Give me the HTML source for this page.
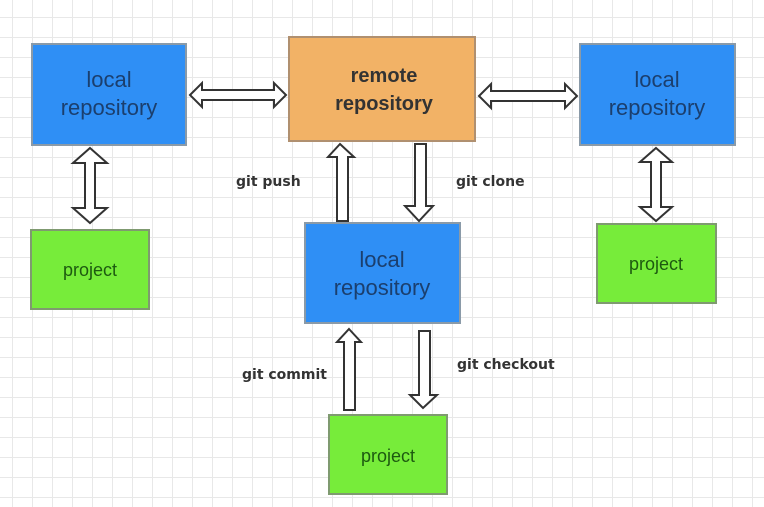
<!DOCTYPE html>
<html><head><style>
html,body{margin:0;padding:0;}
body{width:764px;height:507px;overflow:hidden;background:#fff;
background-image:linear-gradient(#e8e8e8 1px,transparent 1px),linear-gradient(90deg,#e8e8e8 1px,transparent 1px);
background-size:20px 20px;background-position:-8px -3px;}
</style></head><body>
<svg width="764" height="507" style="position:absolute;left:0;top:0" font-family="Liberation Sans, sans-serif">
<g stroke="#8a9aa8" stroke-width="2">
<rect x="32" y="44" width="154" height="101" fill="#2f8ff5"/>
<rect x="289" y="37" width="186" height="104" fill="#f2b266" stroke="#b09070"/>
<rect x="580" y="44" width="155" height="101" fill="#2f8ff5"/>
<rect x="305" y="223" width="155" height="100" fill="#2f8ff5"/>
<rect x="31" y="230" width="118" height="79" fill="#77ec3a" stroke="#7f9a70"/>
<rect x="597" y="224" width="119" height="79" fill="#77ec3a" stroke="#7f9a70"/>
<rect x="329" y="415" width="118" height="79" fill="#77ec3a" stroke="#7f9a70"/>
</g>
<g fill="#1b3f6e" font-size="22" text-anchor="middle">
<text x="109" y="87">local</text><text x="109" y="115">repository</text>
<text x="657" y="87">local</text><text x="657" y="115">repository</text>
<text x="382" y="267">local</text><text x="382" y="295">repository</text>
</g>
<g fill="#333" font-size="20" font-weight="bold" text-anchor="middle">
<text x="384" y="82">remote</text><text x="384" y="110">repository</text>
</g>
<g fill="#1d5a10" font-size="18" text-anchor="middle">
<text x="90" y="276">project</text><text x="656" y="270">project</text><text x="388" y="462">project</text>
</g>
<g fill="#fff" stroke="#333" stroke-width="2" stroke-linejoin="miter">
<polygon points="190,95 202,83 202,90 274,90 274,83 286,95 274,107 274,100 202,100 202,107"/>
<polygon points="479,96 491,84 491,91 565,91 565,84 577,96 565,108 565,101 491,101 491,108"/>
<polygon points="90,148 107,163 95,163 95,208 107,208 90,223 73,208 85,208 85,163 73,163"/>
<polygon points="656,148 672,162 661,162 661,207 672,207 656,221 640,207 651,207 651,162 640,162"/>
<polygon points="340,144 354,157 348,157 348,221 337,221 337,157 328,157"/>
<polygon points="405,206 415,206 415,144 426,144 426,206 433,206 419,221"/>
<polygon points="349,329 361,342 355,342 355,410 344,410 344,342 337,342"/>
<polygon points="410,395 419,395 419,331 430,331 430,395 437,395 423,408"/>
</g>
<g fill="#333" font-size="14" font-weight="bold" font-family="DejaVu Sans, sans-serif">
<text x="236" y="186">git push</text>
<text x="456" y="186">git clone</text>
<text x="242" y="379">git commit</text>
<text x="457" y="369">git checkout</text>
</g>
</svg>
</body></html>
